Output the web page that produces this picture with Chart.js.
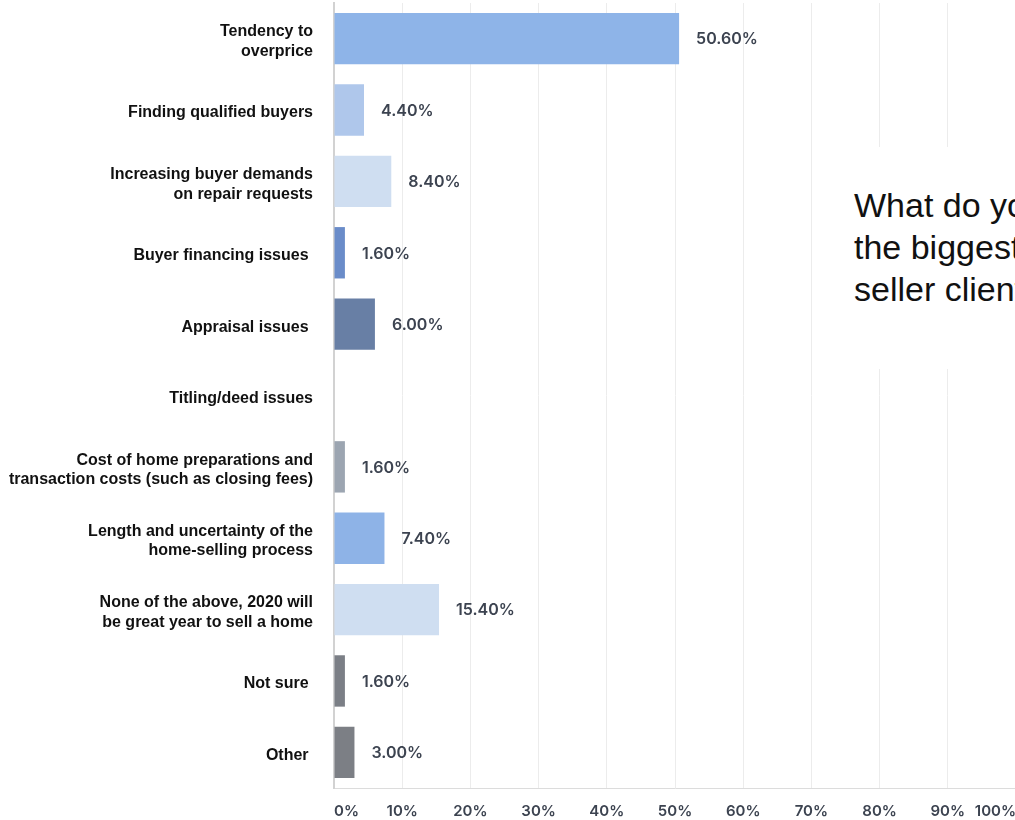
<!DOCTYPE html>
<html>
<head>
<meta charset="utf-8">
<script src="https://cdn.jsdelivr.net/npm/chart.js@4"></script>
<style>
  html, body { margin: 0; padding: 0; background: #fff; overflow: hidden; }
  #wrap { position: relative; width: 1015px; height: 820px; overflow: hidden; }
  #question {
    position: absolute; left: 836px; top: 147px; width: 260px; height: 222px;
    box-sizing: border-box; padding: 37px 0 0 18px; background: #fff;
    font: 34px/42px "Liberation Sans", Arial, sans-serif; color: #111;
    white-space: nowrap; overflow: hidden;
  }
</style>
</head>
<body>
<div id="wrap">
  <canvas id="surveyChart" width="1016" height="820"></canvas>
  <div id="question">What do you think will be<br>the biggest challenges for your<br>seller clients in 2020?</div>
</div>
<script>
const answers = [
    ['Tendency to', 'overprice'],
    'Finding qualified buyers',
    ['Increasing buyer demands', 'on repair requests'],
    'Buyer financing issues ',
    'Appraisal issues ',
    'Titling/deed issues',
    ['Cost of home preparations and', 'transaction costs (such as closing fees)'],
    ['Length and uncertainty of the', 'home-selling process'],
    ['None of the above, 2020 will', 'be great year to sell a home'],
    'Not sure ',
    'Other '
];
const shares = [50.6, 4.4, 8.4, 1.6, 6.0, 0, 1.6, 7.4, 15.4, 1.6, 3.0];
const barColors = ['#8eb4e8', '#afc7eb', '#cfdef1', '#6a8cc9', '#687fa5', '#9ca5b1',
                   '#9ca5b1', '#8eb3e7', '#cfdef1', '#7b7f86', '#7c7f85'];
const percentTicks = [0, 10, 20, 30, 40, 50, 60, 70, 80, 90, 100];

// percentage text right of each bar
const valueLabels = {
    id: 'valueLabels',
    afterDatasetsDraw(chart) {
        const ctx = chart.ctx;
        const meta = chart.getDatasetMeta(0);
        ctx.save();
        ctx.font = '600 16px Inter, sans-serif';
        ctx.fillStyle = '#3c4350';
        ctx.textBaseline = 'middle';
        ctx.textAlign = 'left';
        meta.data.forEach((bar, i) => {
            if (!shares[i]) return;
            ctx.fillText(shares[i].toFixed(2) + '%', bar.x + 17, bar.y + 1);
        });
        ctx.restore();
    }
};

const ctx = document.getElementById('surveyChart').getContext('2d');
new Chart(ctx, {
    type: 'bar',
    data: {
        labels: answers,
        datasets: [{
            data: shares,
            backgroundColor: barColors,
            barPercentage: 0.72,
            categoryPercentage: 1
        }]
    },
    options: {
        indexAxis: 'y',
        responsive: false,
        animation: false,
        layout: { padding: { top: 3, right: 0, left: 0, bottom: 0 } },
        plugins: {
            legend: { display: false },
            tooltip: { enabled: false }
        },
        scales: {
            x: {
                min: 0,
                max: 100,
                afterBuildTicks: scale => {
                    scale.ticks = percentTicks.map(v => ({ value: v }));
                },
                afterFit: scale => {
                    scale.height = 32;
                    scale.paddingLeft = 0;
                    scale.paddingRight = 0;
                },
                grid: { color: '#ececec', lineWidth: 1, drawTicks: false },
                border: { display: true, color: '#dcdcdc', width: 1 },
                ticks: {
                    align: 'inner',
                    padding: 14,
                    color: '#3c4350',
                    font: { family: 'Inter', size: 15, weight: '600' },
                    callback: v => v + '%'
                }
            },
            y: {
                afterFit: scale => {
                    scale.width = 334;
                    scale.paddingTop = 0;
                    scale.paddingBottom = 0;
                },
                grid: { display: false, drawTicks: false },
                border: { display: true, color: '#d2d2d2', width: 2 },
                ticks: {
                    padding: 21,
                    labelOffset: 3,
                    color: '#111',
                    font: { family: 'Liberation Sans', size: 16, weight: 'bold', lineHeight: 1.22 }
                }
            }
        }
    },
    plugins: [valueLabels]
});
</script>
</body>
</html>
